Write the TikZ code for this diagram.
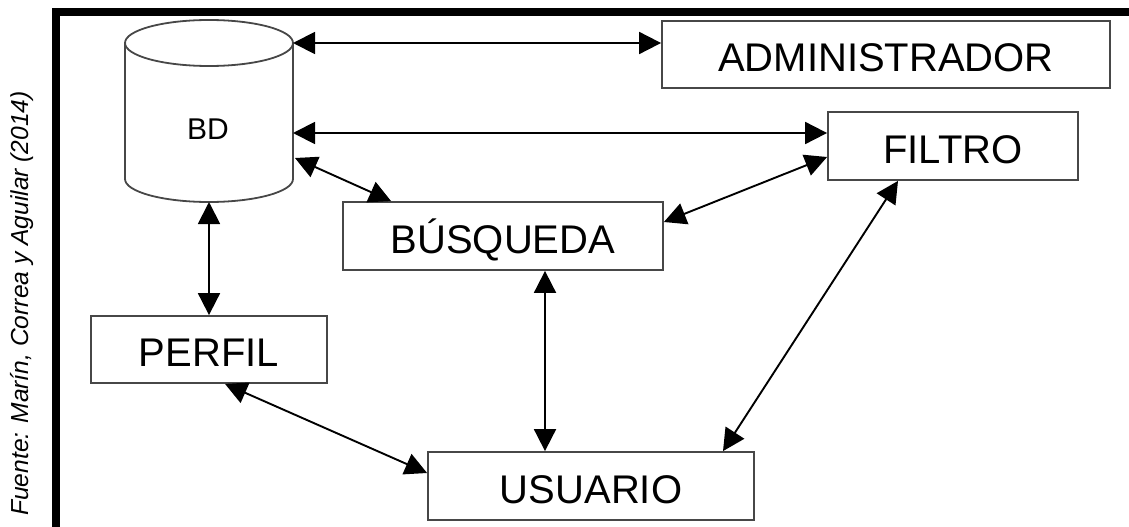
\documentclass[tikz,border=0pt]{standalone}
\usepackage{fontspec}
\setmainfont{Liberation Sans}
\usetikzlibrary{arrows.meta,calc}
\begin{document}
\begin{tikzpicture}[x=1pt,y=-1pt,
  box/.style={draw=black!72,line width=1.8pt,fill=white,inner sep=0pt,
    text height=34pt,text depth=0pt,font=\fontsize{40}{48}\selectfont},
  link/.style={line width=1.9pt,{Triangle[length=22pt,width=22pt]}-{Triangle[length=22pt,width=22pt]}}]
\useasboundingbox (0,0) rectangle (1129,527);
% outer frame
\draw[line width=8pt] (56,12) rectangle (1133,531);
% source note
\node[rotate=90,anchor=base,inner sep=0pt,font=\itshape\fontsize{24.6}{29}\selectfont] (src) at (28,303.5)
  {Fuente: Marín, Correa y Aguilar (2014)};
% database cylinder
\draw[draw=black!72,line width=1.8pt,fill=white]
  (125,43) -- (125,179) .. controls (125,191.7) and (162.6,202) .. (209,202)
  .. controls (255.4,202) and (293,191.7) .. (293,179) -- (293,43);
\draw[draw=black!72,line width=1.8pt] (209,43) ellipse[x radius=84,y radius=23];
\node[font=\fontsize{30}{35}\selectfont] (bd) at (208,129) {BD};
\coordinate (bdA) at (293,43);
\coordinate (bdB) at (293,133);
\coordinate (bdC) at (295,158);
\coordinate (bdD) at (209,202);
% boxes
\node[box,minimum width=448pt,minimum height=67pt] (admin) at (886,54.5) {ADMINISTRADOR};
\node[box,minimum width=250pt,minimum height=68pt] (filtro) at (953,146) {FILTRO};
\node[box,minimum width=320pt,minimum height=68pt] (busq) at (503,236) {BÚSQUEDA};
\node[box,minimum width=326pt,minimum height=68pt] (usuario) at (591,486) {USUARIO};
\node[box,minimum width=236pt,minimum height=67pt] (perfil) at (209,349.5) {PERFIL};
% connectors
\draw[link] (bdA) -- (bdA -| admin.west);
\draw[link] (bdB) -- (bdB -| filtro.west);
\draw[link] (bdC) -- ($(busq.north west)+(49,0)$);
\draw[link] ($(filtro.west)+(0,11)$) -- ($(busq.east)+(0,-14)$);
\draw[link] (bdD) -- (perfil.north);
\draw[link] ($(perfil.south)+(16,0)$) -- ($(usuario.west)+(0,-13)$);
\draw[link] ($(busq.south)+(42,0)$) -- ($(usuario.north)+(-46,0)$);
\draw[link] ($(filtro.south)+(-55,0)$) -- ($(usuario.north)+(132,0)$);
\end{tikzpicture}
\end{document}
